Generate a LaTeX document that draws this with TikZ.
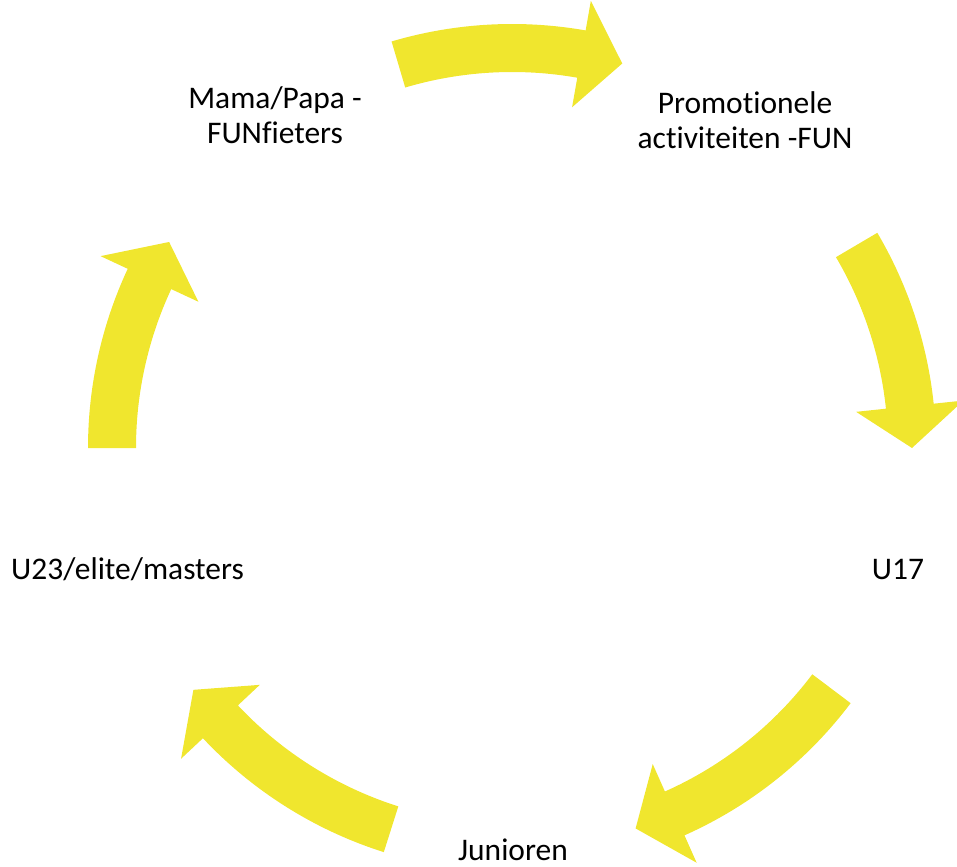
\documentclass[tikz,border=0pt]{standalone}
\usepackage{fontspec}
\setmainfont{Carlito}[Ligatures=NoCommon]
\definecolor{cycleyellow}{RGB}{240,230,46}

% one curved arrow of the cycle: #1 = tail angle, #2 = tip angle
\newcommand{\cyclearrow}[2]{%
  \fill[cycleyellow] (#1:424) arc[start angle=#1, end angle=#2+6, radius=424]
    -- (#2+6:454) -- (#2:400) -- (#2+6:346) -- (#2+6:376)
    arc[start angle=#2+6, end angle=#1, radius=376] -- cycle;}

\begin{document}
\begin{tikzpicture}[x=0.75pt,y=0.75pt,
    lbl/.style={inner sep=0pt, align=center, anchor=base,
      font=\fontsize{23.6}{26}\selectfont}]
  \useasboundingbox (0,0) rectangle (957,-867);

  \begin{scope}[shift={(512,-448)}]
    \cyclearrow{106.5}{74}
    \cyclearrow{30.5}{0}
    \cyclearrow{-37}{-72}
    \cyclearrow{252.4}{217.2}
    \cyclearrow{180}{149}
  \end{scope}

  \node[lbl] (promo) at (745,-148) {Promotionele\\activiteiten -FUN};
  \node[lbl] (u17) at (898,-579) {U17};
  \node[lbl] (junioren) at (513,-860) {Junioren};
  \node[lbl] (u23) at (127.5,-579) {U23/elite/masters};
  \node[lbl] (mama) at (275,-143) {Mama/Papa -\\FUNfieters};
\end{tikzpicture}
\end{document}
